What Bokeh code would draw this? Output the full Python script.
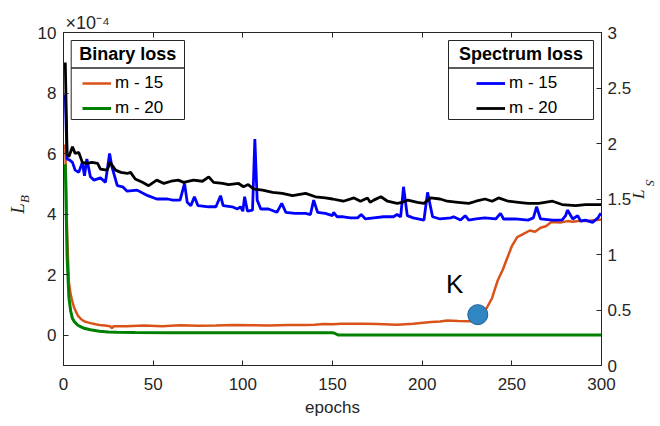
import math
from bokeh.plotting import figure
from bokeh.models import (Range1d, LinearAxis, FixedTicker, Legend, LegendItem,
                          Label, BoxAnnotation, Title)
from bokeh.embed import file_html
from bokeh.resources import INLINE

# ---------------- data ----------------
# Binary loss (left axis, x1e-4)
bin15_epoch = [1, 2, 3, 4, 5, 6, 8, 10, 12, 15, 18, 20, 23, 26, 27, 28, 35, 45, 55, 65,
               75, 85, 95, 105, 115, 125, 135, 140, 145, 150, 155, 160, 167, 175, 186,
               195, 205, 210, 214, 220, 227, 231, 236, 239, 242, 245, 247.5, 250, 253,
               256, 260, 263, 266, 269, 272, 277, 281, 284, 288, 292, 296, 300]
bin15_loss = [6.3, 3.4, 1.75, 1.35, 1.1, 0.9, 0.65, 0.52, 0.45, 0.4, 0.36, 0.34, 0.32,
              0.3, 0.23, 0.3, 0.3, 0.32, 0.3, 0.33, 0.31, 0.32, 0.34, 0.33, 0.32, 0.34,
              0.34, 0.35, 0.37, 0.36, 0.38, 0.38, 0.38, 0.37, 0.35, 0.38, 0.44, 0.45,
              0.49, 0.47, 0.46, 0.5, 0.9, 1.23, 1.79, 2.17, 2.56, 2.94, 3.24, 3.33, 3.46,
              3.42, 3.55, 3.6, 3.74, 3.72, 3.77, 3.75, 3.78, 3.77, 3.8, 3.82]

bin20_epoch = [1, 2, 3, 4, 5, 6, 8, 10, 12, 15, 20, 25, 30, 40, 60, 80, 100, 120, 140,
               150, 151, 152, 153, 160, 200, 250, 300]
bin20_loss = [5.65, 2.6, 1.26, 0.8, 0.55, 0.45, 0.33, 0.27, 0.22, 0.18, 0.13, 0.11, 0.1,
              0.09, 0.08, 0.08, 0.08, 0.08, 0.08, 0.08, 0.07, 0.04, 0.01, 0.01, 0.01,
              0.01, 0.01]

# Spectrum loss (right axis)
spec15_epoch = [1, 2, 3.5, 5, 6.5, 8.5, 10.5, 11.7, 13, 15, 17, 20.6, 23.4, 25.7, 27, 30,
                33, 35.5, 41, 47, 52, 58, 61, 65, 67.5, 69, 71, 73, 75, 81, 85, 87.6, 89,
                94, 97, 98.7, 100, 101, 102.6, 105.4, 106.7, 108, 110, 114.3, 119, 121.7,
                124, 129, 135, 137.7, 139.5, 141.7, 146, 150, 150.6, 152.6, 156, 160, 164,
                166, 168.4, 173, 178.5, 184, 186, 188, 189.6, 191.7, 195, 201, 203, 205.8,
                210, 216, 217.5, 221.4, 224, 226, 230, 235, 241, 243.7, 245.4, 252, 259,
                262, 263.8, 266, 272.7, 278, 280, 281, 284, 286.7, 288.4, 291, 295, 298,
                299.5, 300]
spec15_loss = [2.44, 1.86, 1.85, 1.83, 1.76, 1.74, 1.83, 1.71, 1.86, 1.70, 1.67, 1.69,
               1.65, 1.91, 1.79, 1.62, 1.61, 1.57, 1.58, 1.53, 1.50, 1.50, 1.49, 1.49,
               1.64, 1.47, 1.44, 1.52, 1.44, 1.43, 1.43, 1.53, 1.44, 1.43, 1.41, 1.43,
               1.39, 1.52, 1.39, 1.40, 2.04, 1.49, 1.41, 1.41, 1.38, 1.46, 1.38, 1.37,
               1.37, 1.36, 1.49, 1.38, 1.37, 1.35, 1.38, 1.34, 1.34, 1.33, 1.33, 1.36,
               1.32, 1.33, 1.34, 1.34, 1.36, 1.34, 1.61, 1.35, 1.33, 1.31, 1.56, 1.34,
               1.32, 1.33, 1.34, 1.31, 1.35, 1.31, 1.32, 1.33, 1.32, 1.37, 1.32, 1.32,
               1.31, 1.33, 1.43, 1.32, 1.31, 1.31, 1.35, 1.40, 1.32, 1.35, 1.30, 1.31,
               1.29, 1.33, 1.37, 1.35]

spec20_epoch = [1, 2, 3, 5, 6.5, 8.5, 10.5, 13, 16, 19, 20.6, 24.3, 26, 29, 32, 35.5, 37.4,
                40, 44, 47.5, 52, 56, 60, 64, 67, 72.5, 77.5, 81, 83.7, 88.7, 92, 97.6,
                100.4, 103, 106, 111, 116.6, 122, 127.7, 135, 140.5, 146, 150, 156, 162,
                165.6, 169.5, 171, 173, 177, 180.7, 186, 189, 192, 197.4, 201, 204.7, 210,
                214, 220, 226, 230, 235, 239, 242.6, 248, 253.7, 259, 265, 272.7, 278,
                285.6, 291, 298, 300]
spec20_loss = [2.73, 1.91, 1.88, 1.97, 1.91, 1.92, 1.83, 1.82, 1.83, 1.82, 1.77, 1.76,
               1.83, 1.76, 1.74, 1.73, 1.74, 1.68, 1.65, 1.62, 1.67, 1.64, 1.66, 1.67,
               1.65, 1.67, 1.66, 1.70, 1.65, 1.64, 1.63, 1.64, 1.61, 1.63, 1.59, 1.58,
               1.56, 1.55, 1.53, 1.55, 1.52, 1.51, 1.50, 1.48, 1.51, 1.48, 1.51, 1.47,
               1.49, 1.52, 1.48, 1.46, 1.47, 1.49, 1.47, 1.46, 1.51, 1.50, 1.48, 1.47,
               1.46, 1.48, 1.50, 1.48, 1.51, 1.48, 1.47, 1.46, 1.46, 1.48, 1.45, 1.44,
               1.45, 1.45, 1.45]

# marked point K
k_epoch = [231]
k_loss = [0.68]
k_text = "K"

# ticks
x_ticks = [0, 50, 100, 150, 200, 250, 300]
left_ticks = [0, 2, 4, 6, 8, 10]
right_ticks = [0, 0.5, 1, 1.5, 2, 2.5, 3]

legend_bin_title = "Binary loss"
legend_spec_title = "Spectrum loss"
series_labels = ["m - 15", "m - 20"]
exponent_text = "×10\u207b\u2074"

# ---------------- styling ----------------
FONT = "Liberation Sans"
SERIF = "Liberation Serif"
AX = "#262626"
C_OR = "#D95319"
C_GR = "#008000"
C_BL = "#0000FF"
C_BK = "#000000"

p = figure(width=660, height=426, output_backend="svg", toolbar_location=None,
           x_range=Range1d(0, 300), y_range=Range1d(-1, 10),
           min_border_left=63, min_border_right=59, min_border_top=32,
           min_border_bottom=61, background_fill_color="white",
           border_fill_color="white")
p.extra_y_ranges = {"spec": Range1d(0, 3)}
p.grid.visible = False
p.outline_line_color = AX
p.outline_line_width = 1

AXPROPS = set(LinearAxis.properties())


def style_axis(ax, ticks, label_size="17px", standoff=8):
    ax.ticker = FixedTicker(ticks=ticks)
    ax.major_label_overrides = {t: f"{t:g}" for t in ticks}
    ax.axis_line_color = AX
    ax.major_tick_line_color = AX
    ax.major_tick_in = 5
    ax.major_tick_out = 0
    ax.minor_tick_line_color = None
    ax.major_label_text_font = FONT
    ax.major_label_text_font_size = label_size
    ax.major_label_text_color = AX
    ax.major_label_standoff = standoff


def label_only_axis(ax, text, size, standoff, orient=None):
    ax.ticker = FixedTicker(ticks=[])
    ax.axis_line_color = None
    ax.major_tick_line_color = None
    ax.minor_tick_line_color = None
    ax.major_label_text_color = None
    ax.major_label_text_font_size = "1px"
    ax.major_label_standoff = 0
    ax.major_tick_in = 0
    ax.major_tick_out = 0
    ax.axis_label = text
    ax.axis_label_text_font = SERIF
    ax.axis_label_text_font_style = "italic"
    ax.axis_label_text_font_size = size
    ax.axis_label_text_color = AX
    ax.axis_label_standoff = standoff
    if orient is not None and "axis_label_orientation" in AXPROPS:
        ax.axis_label_orientation = orient


# bottom axis
style_axis(p.xaxis[0], x_ticks, standoff=12)
p.xaxis[0].axis_label = "epochs"
p.xaxis[0].axis_label_text_font = FONT
p.xaxis[0].axis_label_text_font_size = "17px"
p.xaxis[0].axis_label_text_font_style = "normal"
p.xaxis[0].axis_label_text_color = AX
p.xaxis[0].axis_label_standoff = 5

# left axis: ticks + subscript "B"; outer invisible axis carries "L"
yl = p.yaxis[0]
style_axis(yl, left_ticks, standoff=7)
yl.axis_label = "B"
yl.axis_label_text_font = SERIF
yl.axis_label_text_font_style = "italic"
yl.axis_label_text_font_size = "13px"
yl.axis_label_text_color = AX
yl.axis_label_standoff = 3
yl2 = LinearAxis()
label_only_axis(yl2, "L\u2003", "19px", -14)
p.add_layout(yl2, "left")

# right axis: ticks + "L" (reads bottom-to-top); outer invisible axis carries "S"
right = LinearAxis(y_range_name="spec")
style_axis(right, right_ticks, standoff=6)
right.axis_label = "L\u2009"
right.axis_label_text_font = SERIF
right.axis_label_text_font_style = "italic"
right.axis_label_text_font_size = "17px"
right.axis_label_text_color = AX
right.axis_label_text_align = "right"
right.axis_label_standoff = 4
if "axis_label_orientation" in AXPROPS:
    right.axis_label_orientation = -1.5 * math.pi
p.add_layout(right, "right")
yr2 = LinearAxis(y_range_name="spec")
label_only_axis(yr2, "S\u2003\u2003\u2002", "13px", -18)
p.add_layout(yr2, "right")

# top axis: ticks only, plus the x10^-4 multiplier
top = LinearAxis()
style_axis(top, x_ticks)
top.major_label_text_color = None
top.major_label_text_font_size = "1px"
top.major_label_standoff = 0
p.add_layout(top, "above")
p.add_layout(Title(text=exponent_text, align="left", offset=2, standoff=0,
                   text_font=FONT, text_font_size="18px", text_color=AX,
                   text_font_style="normal"), "above")

# ---------------- lines ----------------
r_b15 = p.line(bin15_epoch, bin15_loss, line_color=C_OR, line_width=2.5)
r_b20 = p.line(bin20_epoch, bin20_loss, line_color=C_GR, line_width=3)
r_s15 = p.line(spec15_epoch, spec15_loss, line_color=C_BL, line_width=2.8,
               y_range_name="spec")
r_s20 = p.line(spec20_epoch, spec20_loss, line_color=C_BK, line_width=2.8,
               y_range_name="spec")

p.scatter(k_epoch, k_loss, size=20, fill_color="#2f86c3", line_color="#1e5f92",
          line_width=1)
p.add_layout(Label(x=k_epoch[0], y=k_loss[0], x_offset=-23, y_offset=31, text=k_text,
                   text_align="center", text_baseline="alphabetic",
                   text_font=FONT, text_font_size="26px", text_color="#000000"))


# ---------------- legends ----------------
def make_legend(box_left, box_right, glyph_x, title, renderers):
    p.add_layout(BoxAnnotation(left=box_left, right=box_right, top=325, bottom=246,
                               left_units="screen", right_units="screen",
                               top_units="screen", bottom_units="screen",
                               fill_color="white", fill_alpha=1.0,
                               line_color=AX, line_width=1, line_alpha=1.0))
    p.add_layout(BoxAnnotation(left=box_left, right=box_right, top=297.5,
                               bottom=297.5, left_units="screen",
                               right_units="screen", top_units="screen",
                               bottom_units="screen", fill_alpha=0,
                               line_color=AX, line_width=1, line_alpha=1.0))
    p.add_layout(Label(x=(box_left + box_right) / 2, y=311.5, x_units="screen",
                       y_units="screen", text=title, text_align="center",
                       text_baseline="middle", text_font=FONT,
                       text_font_style="bold", text_font_size="18px",
                       text_color="#000000"))
    items = [LegendItem(label=lab, renderers=[r])
             for lab, r in zip(series_labels, renderers)]
    leg = Legend(items=items, location=(glyph_x, 247.3), border_line_alpha=0,
                 background_fill_alpha=0, padding=0, margin=0, spacing=5,
                 glyph_width=29, glyph_height=20, label_height=20,
                 label_standoff=4, label_text_font=FONT,
                 label_text_font_size="17px", label_text_color="#000000")
    p.add_layout(leg)


make_legend(7.7, 121, 19, legend_bin_title, [r_b15, r_b20])
make_legend(385, 530, 413, legend_spec_title, [r_s15, r_s20])

open("out.html", "w").write(file_html(p, INLINE))
